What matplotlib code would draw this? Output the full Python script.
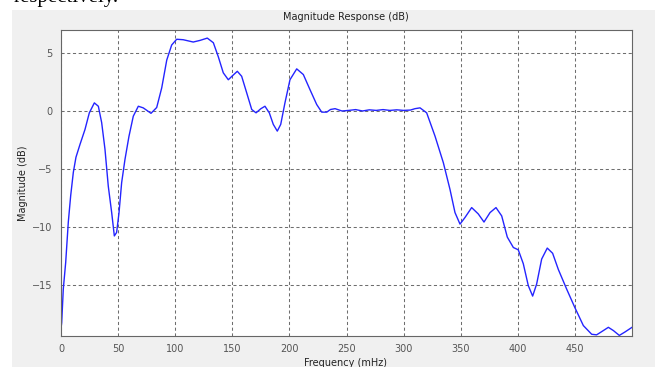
import matplotlib.pyplot as plt
from matplotlib.patches import Rectangle

# frequency (mHz) and magnitude (dB)
freq = [0, 0.6, 2, 4.1, 6.4, 8.5, 10.8, 13.1, 16.6, 21, 24.8, 29.2, 32.7,
        35.6, 38.5, 41.4, 44.4, 46.7, 48.7, 50.8, 53.1, 56, 59.5, 63.3, 67.7,
        72, 78.8, 83.8, 88.2, 92.6, 96.9, 101.3, 107, 115.8, 121.7, 128.1,
        133.4, 137.7, 142.1, 146.5, 150.3, 154.4, 158.2, 162.6, 167, 170.8,
        174.9, 178.6, 182.4, 185.9, 189.4, 192.4, 196.1, 200.5, 206.4, 212.2,
        218, 223.9, 228.3, 232.7, 236, 240, 246, 252, 258, 264, 270, 276, 282,
        288, 294, 300, 306, 310, 314.4, 320.2, 327.5, 334.8, 340.6, 345,
        349.4, 353.8, 359.6, 365.4, 370.4, 375.7, 380.9, 385.9, 390.8, 396.1,
        400.4, 404.8, 409.2, 413, 416.5, 420.9, 425.8, 430.5, 435.5, 442.8,
        450, 457.4, 464.7, 469, 473.5, 479.3, 483.7, 488.9, 493.9, 500]
mag = [-18.8, -18.3, -15.4, -13.1, -9.6, -7.3, -5.3, -4.0, -2.9, -1.6, -0.16,
       0.7, 0.41, -1.0, -3.3, -6.5, -8.8, -10.8, -10.5, -8.8, -6.2, -4.2,
       -2.2, -0.45, 0.41, 0.27, -0.2, 0.3, 2.0, 4.4, 5.7, 6.2, 6.16, 5.96,
       6.1, 6.3, 5.9, 4.7, 3.3, 2.7, 3.06, 3.43, 3.0, 1.57, 0.13, -0.16, 0.19,
       0.41, -0.16, -1.16, -1.74, -1.16, 0.7, 2.7, 3.64, 3.15, 1.85, 0.56,
       -0.1, -0.1, 0.13, 0.2, 0.0, 0.05, 0.12, 0.0, 0.1, 0.05, 0.12, 0.05,
       0.1, 0.05, 0.08, 0.2, 0.27, -0.16, -2.17, -4.47, -6.77, -8.78, -9.78,
       -9.2, -8.35, -8.9, -9.6, -8.78, -8.35, -9.07, -10.9, -11.8, -12.0,
       -13.2, -15.1, -16.0, -14.96, -12.8, -11.85, -12.3, -13.7, -15.4,
       -17.0, -18.55, -19.3, -19.35, -19.07, -18.7, -18.98, -19.4, -19.1,
       -18.7]

xticks = [0, 50, 100, 150, 200, 250, 300, 350, 400, 450]
yticks = [5, 0, -5, -10, -15]

W, H = 657, 367
fig = plt.figure(figsize=(W / 100, H / 100), dpi=100)
fig.patch.set_facecolor('white')

# gray MATLAB panel
fig.patches.append(Rectangle((12 / W, 0), (655 - 12) / W, 1 - 10 / H,
                             transform=fig.transFigure, facecolor='#f0f0f0',
                             edgecolor='none', zorder=-10))
# cut-off text from the surrounding document
fig.text(14 / W, 1 - 2 / H, 'respectively.', family='Liberation Serif',
         fontsize=15, va='baseline', ha='left')

ax = fig.add_axes([61 / W, 1 - 336 / H, (632 - 61) / W, (336 - 30) / H])
ax.set_zorder(5)
ax.set_facecolor('white')
ax.plot(freq, mag, color='#2424ff', lw=1.0)

ax.set_xlim(0, 500)
ax.set_ylim(-19.45, 7)
ax.set_xticks(xticks)
ax.set_yticks(yticks)
ax.tick_params(length=0, labelsize=7, labelcolor='#555555', pad=6)
ax.grid(True, linestyle=(0, (3, 2.5)), color='#6e6e6e', lw=0.75)
for s in ax.spines.values():
    s.set_color('#666666')

fig.text(346 / W, 1 - 17 / H, 'Magnitude Response (dB)', ha='center',
         va='center', fontsize=7, color='#222222')
fig.text(346 / W, 1 - 363 / H, 'Frequency (mHz)', ha='center', va='center',
         fontsize=7, color='#222222')
fig.text(23 / W, 1 - 183 / H, 'Magnitude (dB)', ha='center', va='center',
         rotation=90, fontsize=7, color='#222222')

fig.savefig('out.png', dpi=100)
